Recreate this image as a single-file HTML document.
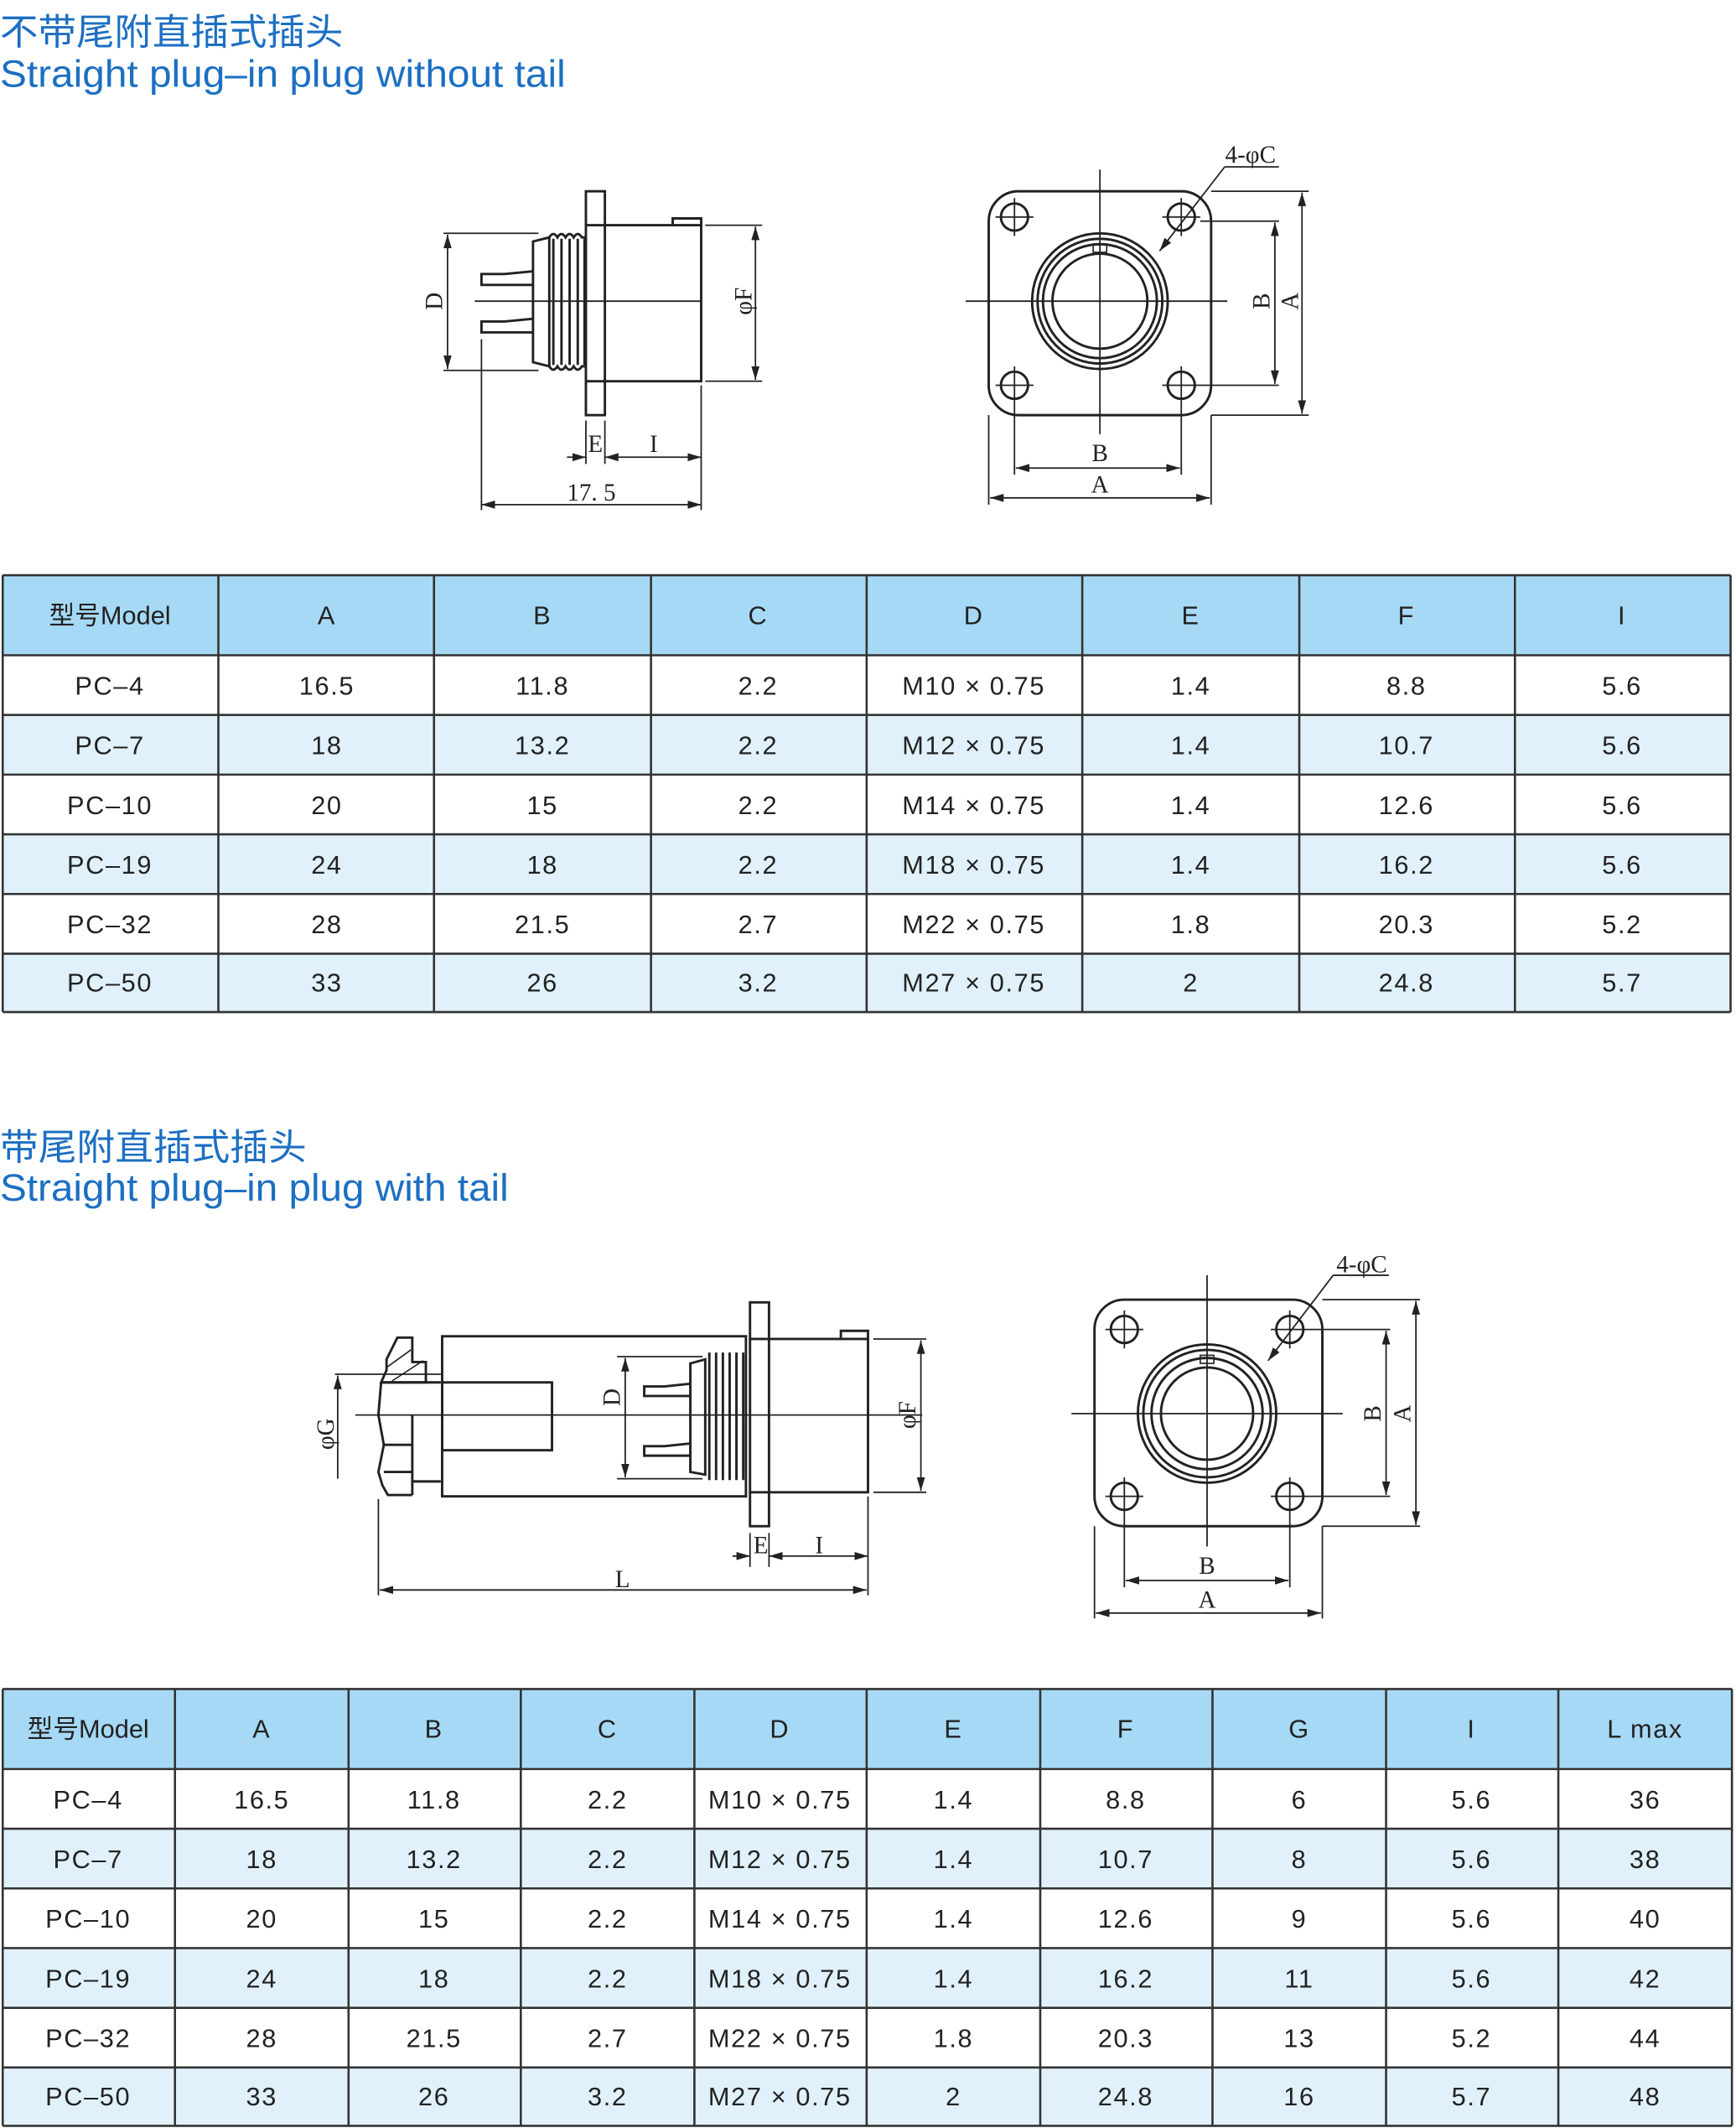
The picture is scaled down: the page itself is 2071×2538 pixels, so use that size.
<!DOCTYPE html>
<html><head><meta charset="utf-8">
<style>
html,body{margin:0;padding:0;background:#fff;}
svg{display:block;}
.t{font-family:"Liberation Sans","Noto Sans CJK SC",sans-serif;fill:#1c6fc2;}
.c{font-family:"Liberation Sans","Noto Sans CJK SC",sans-serif;font-size:19px;fill:#222;text-anchor:middle;letter-spacing:1px;}
.d{font-family:"Liberation Serif",serif;font-size:18px;fill:#222;text-anchor:middle;}
.ln{stroke:#222;stroke-width:1.8;fill:none;}
.th{stroke:#222;stroke-width:1.1;fill:none;}
.g{stroke:#333;stroke-width:1.6;}
</style></head>
<body>
<svg width="2071" height="2538" viewBox="0 0 1280 1568.6" preserveAspectRatio="none" xmlns="http://www.w3.org/2000/svg">
<defs>
<marker id="a" viewBox="0 0 10 6" refX="10" refY="3" markerWidth="10" markerHeight="6" orient="auto-start-reverse" markerUnits="userSpaceOnUse"><path d="M0,0 L10,3 L0,6 z" fill="#222"/></marker>
</defs>

<!-- Titles -->
<text class="t" x="0" y="33" font-size="27" textLength="253" lengthAdjust="spacingAndGlyphs">不带尾附直插式插头</text>
<text class="t" x="0" y="64" font-size="28" textLength="417" lengthAdjust="spacingAndGlyphs">Straight plug–in plug without tail</text>
<text class="t" x="0" y="855" font-size="27" textLength="226" lengthAdjust="spacingAndGlyphs">带尾附直插式插头</text>
<text class="t" x="0" y="885" font-size="28" textLength="375" lengthAdjust="spacingAndGlyphs">Straight plug–in plug with tail</text>

<!-- ===== Drawing 1 left ===== -->
<g class="ln">
<rect x="432" y="141" width="14" height="165"/>
<line x1="432" y1="166" x2="446" y2="166"/><line x1="432" y1="281" x2="446" y2="281"/>
<path d="M446,166 H517 V281 H446"/>
<path d="M496,166 V161 H517 V166"/>
<path d="M393,178 L405,175 V270 L393,267 Z"/>
<path d="M405,175 Q408,170 411,175 Q414,170 417,175 Q420,170 423,175 Q426,170 429,175 L432,175 M405,270 Q408,275 411,270 Q414,275 417,270 Q420,275 423,270 Q426,275 429,270 L432,270"/>
<line x1="408" y1="176" x2="408" y2="269"/><line x1="414" y1="176" x2="414" y2="269"/><line x1="420" y1="176" x2="420" y2="269"/><line x1="426" y1="176" x2="426" y2="269"/><line x1="431" y1="176" x2="431" y2="269"/>
<path d="M393,200 L372,202 H355 V210 H393"/>
<path d="M393,235 L372,237 H355 V245 H393"/>
</g>
<g class="th">
<line x1="350" y1="222" x2="517" y2="222"/>
<line x1="327" y1="172" x2="397" y2="172"/><line x1="327" y1="273" x2="397" y2="273"/>
<line x1="330" y1="173" x2="330" y2="272" marker-start="url(#a)" marker-end="url(#a)"/>
<line x1="520" y1="166" x2="562" y2="166"/><line x1="520" y1="281" x2="562" y2="281"/>
<line x1="557" y1="167" x2="557" y2="280" marker-start="url(#a)" marker-end="url(#a)"/>
<line x1="355" y1="250" x2="355" y2="376"/><line x1="432" y1="310" x2="432" y2="342"/><line x1="446" y1="310" x2="446" y2="342"/><line x1="517" y1="284" x2="517" y2="376"/>
<line x1="418" y1="337" x2="432" y2="337" marker-end="url(#a)"/>
<line x1="446" y1="337" x2="517" y2="337" marker-start="url(#a)" marker-end="url(#a)"/>
<line x1="355" y1="372" x2="517" y2="372" marker-start="url(#a)" marker-end="url(#a)"/>
</g>
<text class="d" transform="translate(326,222) rotate(-90)">D</text>
<text class="d" transform="translate(554,222) rotate(-90)">φF</text>
<text class="d" x="439" y="333">E</text>
<text class="d" x="482" y="333">I</text>
<text class="d" x="436" y="369">17. 5</text>

<!-- ===== Drawing 1 right ===== -->
<g class="ln">
<rect x="729" y="141" width="164" height="165" rx="22"/>
<circle cx="811" cy="222" r="50"/><circle cx="811" cy="222" r="46"/><circle cx="811" cy="222" r="42"/><circle cx="811" cy="222" r="35"/>
<rect x="806" y="180" width="10" height="6" stroke-width="1"/>
<circle cx="748" cy="160" r="10"/><circle cx="871" cy="160" r="10"/><circle cx="748" cy="284" r="10"/><circle cx="871" cy="284" r="10"/>
</g>
<g class="th">
<line x1="712" y1="222" x2="905" y2="222"/><line x1="811" y1="125" x2="811" y2="320"/>
<line x1="734" y1="160" x2="762" y2="160"/><line x1="748" y1="146" x2="748" y2="174"/>
<line x1="857" y1="160" x2="885" y2="160"/><line x1="871" y1="146" x2="871" y2="174"/>
<line x1="734" y1="284" x2="762" y2="284"/><line x1="748" y1="270" x2="748" y2="350"/>
<line x1="857" y1="284" x2="885" y2="284"/><line x1="871" y1="270" x2="871" y2="350"/>
<line x1="893" y1="141" x2="965" y2="141"/><line x1="893" y1="306" x2="965" y2="306"/>
<line x1="960" y1="142" x2="960" y2="305" marker-start="url(#a)" marker-end="url(#a)"/>
<line x1="885" y1="163" x2="943" y2="163"/><line x1="885" y1="284" x2="943" y2="284"/>
<line x1="940" y1="164" x2="940" y2="283" marker-start="url(#a)" marker-end="url(#a)"/>
<line x1="749" y1="345" x2="870" y2="345" marker-start="url(#a)" marker-end="url(#a)"/>
<line x1="729" y1="306" x2="729" y2="372"/><line x1="893" y1="306" x2="893" y2="372"/>
<line x1="730" y1="367" x2="892" y2="367" marker-start="url(#a)" marker-end="url(#a)"/>
<line x1="903" y1="123" x2="943" y2="123"/>
<line x1="903" y1="123" x2="855" y2="185" marker-end="url(#a)"/>
</g>
<text class="d" transform="translate(936,222) rotate(-90)">B</text>
<text class="d" transform="translate(957,222) rotate(-90)">A</text>
<text class="d" x="811" y="340">B</text>
<text class="d" x="811" y="363">A</text>
<text class="d" x="922" y="120">4-φC</text>

<!-- ===== Drawing 2 left ===== -->
<g class="ln">
<path d="M285,1002 L293,986 H304 V1004 H314 V1019 H281 L285,1010 Z"/>
<line x1="285" y1="1008" x2="303" y2="995" stroke-width="1"/><line x1="289" y1="1018" x2="312" y2="1003" stroke-width="1"/>
<path d="M281,1019 L279,1043 L283,1065 L279,1085 L282,1095 L286,1102 H304"/>
<line x1="281" y1="1019" x2="325" y2="1019"/>
<line x1="304" y1="1043" x2="304" y2="1102"/>
<line x1="283" y1="1065" x2="304" y2="1065"/><line x1="283" y1="1085" x2="304" y2="1085"/>
<line x1="304" y1="1092" x2="325" y2="1092"/>
<rect x="326" y="985" width="224" height="118"/>
<rect x="326" y="1019" width="81" height="50"/>
<rect x="553" y="960" width="14" height="165"/>
<line x1="553" y1="987" x2="567" y2="987"/><line x1="553" y1="1100" x2="567" y2="1100"/>
<path d="M567,987 H640 V1100 H567"/>
<path d="M620,987 V981 H640 V987"/>
<path d="M509,1005 L520,1002 V1087 L509,1085 Z"/>
<line x1="523" y1="997" x2="523" y2="1091"/><line x1="528" y1="997" x2="528" y2="1091"/><line x1="533" y1="997" x2="533" y2="1091"/><line x1="538" y1="997" x2="538" y2="1091"/><line x1="543" y1="997" x2="543" y2="1091"/><line x1="548" y1="997" x2="548" y2="1091"/>
<path d="M509,1020 L490,1022 H475 V1029 H509"/>
<path d="M509,1064 L490,1066 H475 V1073 H509"/>
</g>
<g class="th">
<line x1="262" y1="1043" x2="680" y2="1043"/>
<line x1="455" y1="1000" x2="518" y2="1000"/><line x1="455" y1="1090" x2="518" y2="1090"/>
<line x1="461" y1="1001" x2="461" y2="1089" marker-start="url(#a)" marker-end="url(#a)"/>
<line x1="247" y1="1013" x2="325" y2="1013"/>
<line x1="249" y1="1014" x2="249" y2="1090" marker-start="url(#a)"/>
<line x1="644" y1="987" x2="683" y2="987"/><line x1="644" y1="1100" x2="683" y2="1100"/>
<line x1="679" y1="988" x2="679" y2="1099" marker-start="url(#a)" marker-end="url(#a)"/>
<line x1="279" y1="1105" x2="279" y2="1176"/><line x1="640" y1="1103" x2="640" y2="1176"/>
<line x1="553" y1="1130" x2="553" y2="1155"/><line x1="567" y1="1130" x2="567" y2="1155"/>
<line x1="540" y1="1147" x2="553" y2="1147" marker-end="url(#a)"/>
<line x1="567" y1="1147" x2="640" y2="1147" marker-start="url(#a)" marker-end="url(#a)"/>
<line x1="280" y1="1172" x2="639" y2="1172" marker-start="url(#a)" marker-end="url(#a)"/>
</g>
<text class="d" transform="translate(457,1030) rotate(-90)">D</text>
<text class="d" transform="translate(246,1057) rotate(-90)">φG</text>
<text class="d" transform="translate(675,1043) rotate(-90)">φF</text>
<text class="d" x="561" y="1145">E</text>
<text class="d" x="604" y="1145">I</text>
<text class="d" x="459" y="1170">L</text>

<!-- ===== Drawing 2 right ===== -->
<g class="ln">
<rect x="807" y="958" width="168" height="167" rx="22"/>
<circle cx="890" cy="1042" r="51"/><circle cx="890" cy="1042" r="47"/><circle cx="890" cy="1042" r="41"/><circle cx="890" cy="1042" r="34"/>
<rect x="885" y="999" width="10" height="6" stroke-width="1"/>
<circle cx="829" cy="980" r="10"/><circle cx="951" cy="980" r="10"/><circle cx="829" cy="1103" r="10"/><circle cx="951" cy="1103" r="10"/>
</g>
<g class="th">
<line x1="790" y1="1042" x2="990" y2="1042"/><line x1="890" y1="940" x2="890" y2="1140"/>
<line x1="815" y1="980" x2="843" y2="980"/><line x1="829" y1="966" x2="829" y2="994"/>
<line x1="937" y1="980" x2="965" y2="980"/><line x1="951" y1="966" x2="951" y2="994"/>
<line x1="815" y1="1103" x2="843" y2="1103"/><line x1="829" y1="1089" x2="829" y2="1170"/>
<line x1="937" y1="1103" x2="965" y2="1103"/><line x1="951" y1="1089" x2="951" y2="1170"/>
<line x1="975" y1="958" x2="1047" y2="958"/><line x1="975" y1="1125" x2="1047" y2="1125"/>
<line x1="1044" y1="959" x2="1044" y2="1124" marker-start="url(#a)" marker-end="url(#a)"/>
<line x1="965" y1="980" x2="1025" y2="980"/><line x1="965" y1="1103" x2="1025" y2="1103"/>
<line x1="1022" y1="981" x2="1022" y2="1102" marker-start="url(#a)" marker-end="url(#a)"/>
<line x1="830" y1="1165" x2="950" y2="1165" marker-start="url(#a)" marker-end="url(#a)"/>
<line x1="807" y1="1125" x2="807" y2="1193"/><line x1="975" y1="1125" x2="975" y2="1193"/>
<line x1="808" y1="1189" x2="974" y2="1189" marker-start="url(#a)" marker-end="url(#a)"/>
<line x1="983" y1="940" x2="1024" y2="940"/>
<line x1="983" y1="940" x2="935" y2="1003" marker-end="url(#a)"/>
</g>
<text class="d" transform="translate(1018,1042) rotate(-90)">B</text>
<text class="d" transform="translate(1040,1042) rotate(-90)">A</text>
<text class="d" x="890" y="1160">B</text>
<text class="d" x="890" y="1185">A</text>
<text class="d" x="1004" y="938">4-φC</text>

<!-- ===== Table 1 ===== -->
<rect x="2" y="424" width="1274" height="59" fill="#a6d9f5"/>
<rect x="2" y="527" width="1274" height="44" fill="#e0f1fb"/>
<rect x="2" y="615" width="1274" height="44" fill="#e0f1fb"/>
<rect x="2" y="703" width="1274" height="43" fill="#e0f1fb"/>
<g class="g">
<line x1="2" y1="424" x2="1276" y2="424"/><line x1="2" y1="483" x2="1276" y2="483"/><line x1="2" y1="527" x2="1276" y2="527"/><line x1="2" y1="571" x2="1276" y2="571"/><line x1="2" y1="615" x2="1276" y2="615"/><line x1="2" y1="659" x2="1276" y2="659"/><line x1="2" y1="703" x2="1276" y2="703"/><line x1="2" y1="746" x2="1276" y2="746"/>
<line x1="2" y1="424" x2="2" y2="746"/><line x1="161" y1="424" x2="161" y2="746"/><line x1="320" y1="424" x2="320" y2="746"/><line x1="480" y1="424" x2="480" y2="746"/><line x1="639" y1="424" x2="639" y2="746"/><line x1="798" y1="424" x2="798" y2="746"/><line x1="958" y1="424" x2="958" y2="746"/><line x1="1117" y1="424" x2="1117" y2="746"/><line x1="1276" y1="424" x2="1276" y2="746"/>
</g>
<g class="c">
<text x="81" y="460" letter-spacing="0">型号Model</text><text x="241" y="460">A</text><text x="400" y="460">B</text><text x="559" y="460">C</text><text x="718" y="460">D</text><text x="878" y="460">E</text><text x="1037" y="460">F</text><text x="1196" y="460">I</text>
<text x="81" y="512">PC–4</text><text x="241" y="512">16.5</text><text x="400" y="512">11.8</text><text x="559" y="512">2.2</text><text x="718" y="512">M10 × 0.75</text><text x="878" y="512">1.4</text><text x="1037" y="512">8.8</text><text x="1196" y="512">5.6</text>
<text x="81" y="556">PC–7</text><text x="241" y="556">18</text><text x="400" y="556">13.2</text><text x="559" y="556">2.2</text><text x="718" y="556">M12 × 0.75</text><text x="878" y="556">1.4</text><text x="1037" y="556">10.7</text><text x="1196" y="556">5.6</text>
<text x="81" y="600">PC–10</text><text x="241" y="600">20</text><text x="400" y="600">15</text><text x="559" y="600">2.2</text><text x="718" y="600">M14 × 0.75</text><text x="878" y="600">1.4</text><text x="1037" y="600">12.6</text><text x="1196" y="600">5.6</text>
<text x="81" y="644">PC–19</text><text x="241" y="644">24</text><text x="400" y="644">18</text><text x="559" y="644">2.2</text><text x="718" y="644">M18 × 0.75</text><text x="878" y="644">1.4</text><text x="1037" y="644">16.2</text><text x="1196" y="644">5.6</text>
<text x="81" y="688">PC–32</text><text x="241" y="688">28</text><text x="400" y="688">21.5</text><text x="559" y="688">2.7</text><text x="718" y="688">M22 × 0.75</text><text x="878" y="688">1.8</text><text x="1037" y="688">20.3</text><text x="1196" y="688">5.2</text>
<text x="81" y="731">PC–50</text><text x="241" y="731">33</text><text x="400" y="731">26</text><text x="559" y="731">3.2</text><text x="718" y="731">M27 × 0.75</text><text x="878" y="731">2</text><text x="1037" y="731">24.8</text><text x="1196" y="731">5.7</text>
</g>

<!-- ===== Table 2 ===== -->
<rect x="2" y="1245" width="1275" height="59" fill="#a6d9f5"/>
<rect x="2" y="1348" width="1275" height="44" fill="#e0f1fb"/>
<rect x="2" y="1436" width="1275" height="44" fill="#e0f1fb"/>
<rect x="2" y="1524" width="1275" height="43" fill="#e0f1fb"/>
<g class="g">
<line x1="2" y1="1245" x2="1277" y2="1245"/><line x1="2" y1="1304" x2="1277" y2="1304"/><line x1="2" y1="1348" x2="1277" y2="1348"/><line x1="2" y1="1392" x2="1277" y2="1392"/><line x1="2" y1="1436" x2="1277" y2="1436"/><line x1="2" y1="1480" x2="1277" y2="1480"/><line x1="2" y1="1524" x2="1277" y2="1524"/><line x1="2" y1="1567" x2="1277" y2="1567"/>
<line x1="2" y1="1245" x2="2" y2="1567"/><line x1="129" y1="1245" x2="129" y2="1567"/><line x1="257" y1="1245" x2="257" y2="1567"/><line x1="384" y1="1245" x2="384" y2="1567"/><line x1="512" y1="1245" x2="512" y2="1567"/><line x1="639" y1="1245" x2="639" y2="1567"/><line x1="767" y1="1245" x2="767" y2="1567"/><line x1="894" y1="1245" x2="894" y2="1567"/><line x1="1022" y1="1245" x2="1022" y2="1567"/><line x1="1149" y1="1245" x2="1149" y2="1567"/><line x1="1277" y1="1245" x2="1277" y2="1567"/>
</g>
<g class="c">
<text x="65" y="1281" letter-spacing="0">型号Model</text><text x="193" y="1281">A</text><text x="320" y="1281">B</text><text x="448" y="1281">C</text><text x="575" y="1281">D</text><text x="703" y="1281">E</text><text x="830" y="1281">F</text><text x="958" y="1281">G</text><text x="1085" y="1281">I</text><text x="1213" y="1281">L max</text>
<text x="65" y="1333">PC–4</text><text x="193" y="1333">16.5</text><text x="320" y="1333">11.8</text><text x="448" y="1333">2.2</text><text x="575" y="1333">M10 × 0.75</text><text x="703" y="1333">1.4</text><text x="830" y="1333">8.8</text><text x="958" y="1333">6</text><text x="1085" y="1333">5.6</text><text x="1213" y="1333">36</text>
<text x="65" y="1377">PC–7</text><text x="193" y="1377">18</text><text x="320" y="1377">13.2</text><text x="448" y="1377">2.2</text><text x="575" y="1377">M12 × 0.75</text><text x="703" y="1377">1.4</text><text x="830" y="1377">10.7</text><text x="958" y="1377">8</text><text x="1085" y="1377">5.6</text><text x="1213" y="1377">38</text>
<text x="65" y="1421">PC–10</text><text x="193" y="1421">20</text><text x="320" y="1421">15</text><text x="448" y="1421">2.2</text><text x="575" y="1421">M14 × 0.75</text><text x="703" y="1421">1.4</text><text x="830" y="1421">12.6</text><text x="958" y="1421">9</text><text x="1085" y="1421">5.6</text><text x="1213" y="1421">40</text>
<text x="65" y="1465">PC–19</text><text x="193" y="1465">24</text><text x="320" y="1465">18</text><text x="448" y="1465">2.2</text><text x="575" y="1465">M18 × 0.75</text><text x="703" y="1465">1.4</text><text x="830" y="1465">16.2</text><text x="958" y="1465">11</text><text x="1085" y="1465">5.6</text><text x="1213" y="1465">42</text>
<text x="65" y="1509">PC–32</text><text x="193" y="1509">28</text><text x="320" y="1509">21.5</text><text x="448" y="1509">2.7</text><text x="575" y="1509">M22 × 0.75</text><text x="703" y="1509">1.8</text><text x="830" y="1509">20.3</text><text x="958" y="1509">13</text><text x="1085" y="1509">5.2</text><text x="1213" y="1509">44</text>
<text x="65" y="1552">PC–50</text><text x="193" y="1552">33</text><text x="320" y="1552">26</text><text x="448" y="1552">3.2</text><text x="575" y="1552">M27 × 0.75</text><text x="703" y="1552">2</text><text x="830" y="1552">24.8</text><text x="958" y="1552">16</text><text x="1085" y="1552">5.7</text><text x="1213" y="1552">48</text>
</g>
</svg>
</body></html>
